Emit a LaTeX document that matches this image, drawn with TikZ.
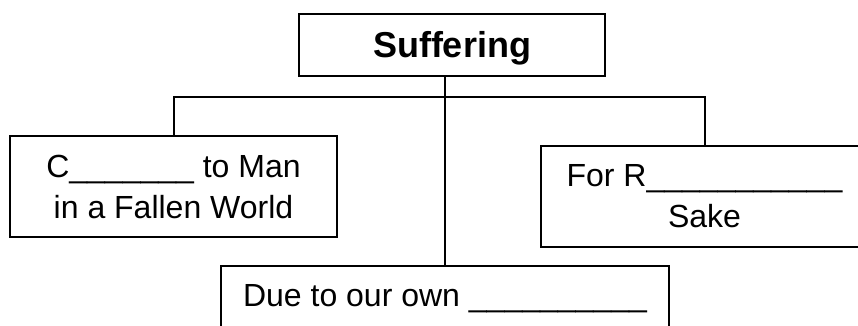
\documentclass[tikz,border=0pt]{standalone}
\usepackage{fontspec}
\setmainfont{Liberation Sans}
\usetikzlibrary{positioning}

\tikzset{
  blankbox/.style={draw, line width=2pt, inner sep=0pt, align=center,
    font=\fontsize{32}{41}\selectfont},
  topicbox/.style={blankbox, font=\bfseries\fontsize{36}{43}\selectfont},
  link/.style={line width=2pt},
}

\begin{document}
\begin{tikzpicture}[x=1pt,y=-1pt]
  \useasboundingbox (0,0) rectangle (858,326);
  % heading
  \node[topicbox, anchor=north west, minimum width=306pt,
        text height=44pt, text depth=18pt] (suff) at (298,13) {Suffering};
  % the three causes
  \node[blankbox, anchor=north west, minimum width=327pt, minimum height=101pt]
        (curse) at (9,135) {C\_\_\_\_\_\_\_ to Man\\in a Fallen World};
  \node[blankbox, anchor=north west, minimum width=327pt, minimum height=101pt]
        (sake) at (540,145) {For R\_\_\_\_\_\_\_\_\_\_\_\\Sake};
  \node[blankbox, anchor=north west, minimum width=448pt,
        text height=40pt, text depth=62pt] (own) at (220,265)
        {Due to our own \_\_\_\_\_\_\_\_\_\_};
  \coordinate (bar) at (444,97);
  \draw[link] (suff.south -| own.north) -- (own.north);
  \draw[link] (curse.north) |- (bar) -| (sake.north);
\end{tikzpicture}
\end{document}
